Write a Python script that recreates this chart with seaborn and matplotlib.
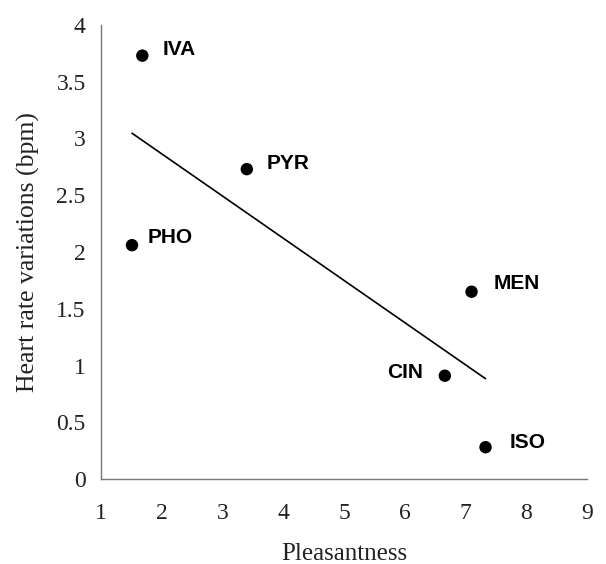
import matplotlib
matplotlib.use("Agg")
import matplotlib.pyplot as plt
import seaborn as sns
import pandas as pd

labels = ["IVA", "PYR", "PHO", "MEN", "CIN", "ISO"]
pleasantness = [1.68, 3.40, 1.51, 7.10, 6.66, 7.33]
heart_rate = [3.73, 2.73, 2.06, 1.65, 0.91, 0.28]
label_offsets = {"IVA": (20, 6), "PYR": (20, 6), "PHO": (16, 8), "MEN": (22, 8),
                 "CIN": (-22, 3), "ISO": (24, 5)}
x_ticks = [1, 2, 3, 4, 5, 6, 7, 8, 9]
y_ticks = [0, 0.5, 1, 1.5, 2, 2.5, 3, 3.5, 4]

df = pd.DataFrame({"Pleasantness": pleasantness, "HR": heart_rate, "label": labels})

sns.set_style("white")
plt.rcParams["font.family"] = ["Liberation Serif", "DejaVu Serif"]

fig = plt.figure(figsize=(6.06, 5.64), dpi=100)
ax = fig.add_axes([0.1667, 0.1507, 0.8019, 0.805])

sns.regplot(data=df, x="Pleasantness", y="HR", ci=None, ax=ax,
            scatter_kws={"s": 80, "color": "black", "edgecolor": "none",
                         "alpha": 1, "zorder": 3},
            line_kws={"color": "black", "linewidth": 1.2})

for lab, xv, yv in zip(labels, pleasantness, heart_rate):
    dx, dy = label_offsets[lab]
    ax.annotate(lab, (xv, yv), xytext=(dx, dy), textcoords="offset pixels",
                ha="left" if dx > 0 else "right", va="center",
                fontsize=15, fontweight="heavy", family=["Liberation Sans", "DejaVu Sans"],
                color="black")

ax.set_xlim(1, 9)
ax.set_ylim(0, 4)
ax.set_xticks(x_ticks)
ax.set_xticklabels([str(t) for t in x_ticks])
ax.set_yticks(y_ticks)
ax.set_yticklabels([f"{t:g}" for t in y_ticks])

for side in ["top", "right"]:
    ax.spines[side].set_visible(False)
for side in ["left", "bottom"]:
    ax.spines[side].set_color("#777777")
    ax.spines[side].set_linewidth(1.0)

ax.tick_params(axis="both", which="major", direction="out", length=5, width=1,
               color="#777777", labelsize=17, labelcolor="#222222", pad=6)
ax.tick_params(axis="x", pad=12)

ax.set_xlabel("Pleasantness", fontsize=18, color="#222222", labelpad=14)
ax.set_ylabel("Heart rate variations (bpm)", fontsize=18.5, color="#222222", labelpad=12)

fig.savefig("out.png", dpi=100)
